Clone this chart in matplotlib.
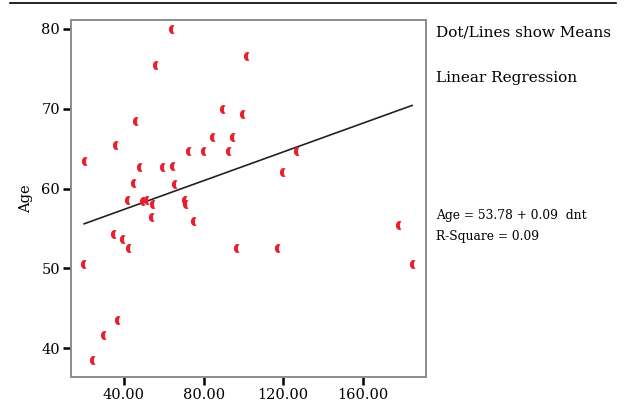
import numpy as np
import matplotlib.pyplot as plt
from matplotlib.path import Path
from matplotlib.lines import Line2D

plt.rcParams["font.family"] = ["DejaVu Serif"]

# dnt vs Age
dnt = [64.0, 56.1, 101.8, 46.2, 89.9, 99.9, 36.2, 84.9, 94.6, 20.4,
       72.7, 80.2, 93.0, 126.8, 48.0, 59.4, 64.8, 119.7, 45.0, 65.8,
       41.9, 49.7, 51.4, 54.7, 70.7, 71.2, 54.3, 75.2, 35.1, 39.7,
       42.5, 96.9, 117.2, 178.2, 185.2, 20.0, 36.8, 29.9, 24.7]
age = [80.0, 75.5, 76.6, 68.5, 69.9, 69.3, 65.5, 66.5, 66.5, 63.4,
       64.7, 64.7, 64.7, 64.7, 62.7, 62.7, 62.8, 62.1, 60.7, 60.6,
       58.5, 58.4, 58.6, 58.1, 58.6, 58.1, 56.4, 55.9, 54.3, 53.7,
       52.5, 52.5, 52.5, 55.4, 50.5, 50.5, 43.5, 41.7, 38.5]

intercept = 53.78
slope = 0.09
fit_range = [20.0, 184.7]

xticks = [40, 80, 120, 160]
yticks = [40, 50, 60, 70, 80]

RED = "#e8202e"

# small crescent-shaped marker like the SPSS one
t1 = np.linspace(np.radians(65), np.radians(295), 16)
t2 = t1[::-1]
outer = np.column_stack([0.8 * np.cos(t1), np.sin(t1)])
inner = np.column_stack([0.45 + 0.35 * np.cos(t2), 0.8 * np.sin(t2)])
verts = np.vstack([outer, inner, outer[:1]])
crescent = Path(verts, closed=True)

fig = plt.figure(figsize=(6.25, 4.05), dpi=100)
ax = fig.add_axes([71 / 625, 1 - 377 / 405, 355 / 625, 357 / 405])

ax.scatter(dnt, age, marker=crescent, s=42, color=RED, linewidths=0, zorder=3)

fx = np.linspace(fit_range[0], fit_range[1], 60)
ax.plot(fx, intercept + slope * fx, color="#222222", lw=1.2, zorder=2)

ax.set_xlim(13.4, 191.7)
ax.set_ylim(36.4, 81.1)
ax.set_xticks(xticks)
ax.set_xticklabels([f"{v:.2f}" for v in xticks])
ax.set_yticks(yticks)
ax.tick_params(direction="out", length=6, width=1.8, color="black",
               labelsize=10.5, pad=2, top=False, right=False)
for sp in ax.spines.values():
    sp.set_color("#8c8c8c")
    sp.set_linewidth(1.4)

ax.set_ylabel("Age", fontsize=10.5, labelpad=6)

fig.text(436 / 625, 1 - 33 / 405, "Dot/Lines show Means", fontsize=11, va="center")
fig.text(436 / 625, 1 - 78 / 405, "Linear Regression", fontsize=11, va="center")
fig.text(436 / 625, 1 - 216 / 405, "Age = 53.78 + 0.09  dnt", fontsize=8.8, va="center")
fig.text(436 / 625, 1 - 237 / 405, "R-Square = 0.09", fontsize=8.8, va="center")

# rule across the top
fig.add_artist(Line2D([10 / 625, 616 / 625], [1 - 3 / 405, 1 - 3 / 405],
                      color="black", lw=1.2))

fig.savefig("out.png", dpi=100)
